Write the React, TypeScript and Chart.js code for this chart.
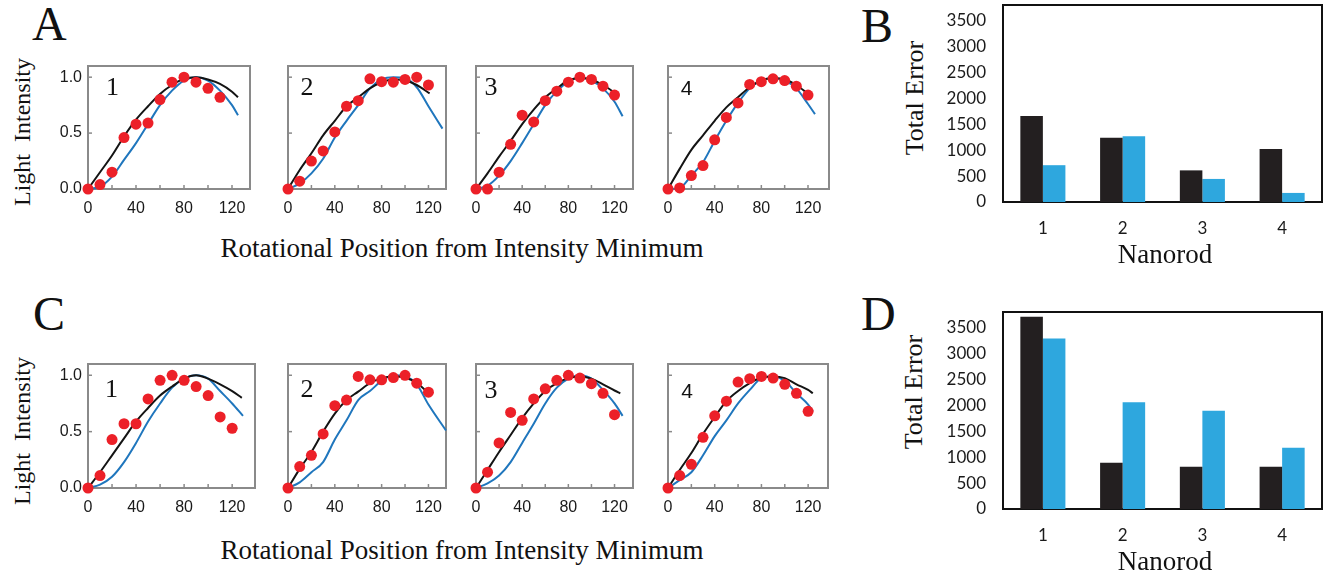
import React, { useEffect, useRef } from 'react';
import { Chart, registerables } from 'chart.js';

Chart.register(...registerables);

// ---------------- data ----------------
const dotAngles = [0, 10, 20, 30, 40, 50, 60, 70, 80, 90, 100, 110, 120];
const xTickLabels = [0, 40, 80, 120];
const xMinorTicks = [20, 40, 60, 80, 100, 120];
const yTickValues = [0, 0.5, 1.0];
const plotNames = ['1', '2', '3', '4'];

// Panel A (measured intensity, red dots; black & blue model curves as [angle, intensity])
const a1Dots = [0, 0.04, 0.15, 0.46, 0.58, 0.59, 0.8, 0.955, 1.0, 0.955, 0.9, 0.82];
const a1Black = [[0, 0], [10, 0.15], [20, 0.3], [30, 0.47], [40, 0.62], [50, 0.74], [60, 0.85], [70, 0.93], [80, 0.985], [90, 1.0], [100, 0.98], [110, 0.94], [120, 0.87], [125, 0.82]];
const a1Blue = [[0, 0], [10, 0.02], [20, 0.11], [30, 0.26], [40, 0.41], [50, 0.58], [60, 0.75], [70, 0.88], [80, 0.97], [90, 1.0], [100, 0.97], [110, 0.88], [120, 0.75], [125, 0.66]];

const a2Dots = [0, 0.07, 0.25, 0.34, 0.51, 0.74, 0.79, 0.985, 0.96, 0.955, 0.98, 1.0, 0.93];
const a2Black = [[0, 0], [10, 0.17], [20, 0.32], [30, 0.48], [40, 0.61], [50, 0.74], [60, 0.82], [70, 0.9], [80, 0.955], [90, 0.98], [100, 0.97], [110, 0.93], [121, 0.855]];
const a2Blue = [[0, 0], [10, 0.05], [20, 0.14], [30, 0.27], [40, 0.46], [50, 0.61], [60, 0.75], [70, 0.9], [80, 0.98], [90, 1.0], [100, 0.99], [110, 0.91], [120, 0.74], [132, 0.54]];

const a3Dots = [0, 0, 0.15, 0.4, 0.66, 0.6, 0.79, 0.875, 0.955, 1.0, 0.98, 0.92, 0.84];
const a3Black = [[0, 0], [10, 0.14], [20, 0.29], [30, 0.43], [40, 0.58], [50, 0.71], [60, 0.82], [70, 0.9], [80, 0.97], [90, 0.99], [100, 0.98], [110, 0.93], [120, 0.86], [123, 0.83]];
const a3Blue = [[0, 0], [10, 0.03], [20, 0.12], [30, 0.25], [40, 0.41], [50, 0.58], [60, 0.75], [70, 0.875], [80, 0.96], [90, 1.0], [100, 0.97], [110, 0.9], [120, 0.78], [127, 0.65]];

const a4Dots = [0, 0.01, 0.12, 0.21, 0.44, 0.64, 0.77, 0.935, 0.96, 0.985, 0.97, 0.92, 0.84];
const a4Black = [[0, 0], [10, 0.18], [20, 0.35], [30, 0.48], [40, 0.61], [50, 0.73], [60, 0.82], [70, 0.91], [80, 0.97], [90, 0.99], [100, 0.98], [110, 0.93], [120, 0.85]];
const a4Blue = [[0, 0], [10, 0.01], [20, 0.12], [30, 0.24], [40, 0.43], [50, 0.61], [60, 0.77], [70, 0.9], [80, 0.97], [90, 0.99], [100, 0.97], [110, 0.9], [120, 0.76], [126, 0.67]];

// Panel C
const c1Dots = [0, 0.11, 0.43, 0.57, 0.57, 0.79, 0.955, 1.0, 0.955, 0.9, 0.82, 0.63, 0.53];
const c1Black = [[0, 0], [10, 0.14], [20, 0.29], [30, 0.44], [40, 0.59], [50, 0.71], [60, 0.82], [70, 0.9], [80, 0.97], [90, 1.0], [100, 0.97], [110, 0.92], [120, 0.86], [128, 0.8]];
const c1Blue = [[0, 0], [10, 0.03], [20, 0.1], [30, 0.23], [40, 0.4], [50, 0.59], [60, 0.75], [70, 0.89], [80, 0.97], [90, 1.0], [100, 0.97], [110, 0.86], [120, 0.75], [129, 0.64]];

const c2Dots = [0, 0.19, 0.29, 0.48, 0.73, 0.78, 0.99, 0.96, 0.96, 0.98, 1.0, 0.93, 0.85];
const c2Black = [[0, 0], [10, 0.17], [20, 0.32], [30, 0.5], [40, 0.66], [50, 0.78], [60, 0.855], [70, 0.93], [80, 0.975], [90, 0.99], [100, 0.98], [110, 0.93], [120, 0.845]];
const c2Blue = [[0, 0], [10, 0.05], [20, 0.14], [30, 0.23], [40, 0.43], [50, 0.6], [60, 0.78], [70, 0.86], [80, 0.95], [90, 1.0], [100, 0.99], [110, 0.92], [120, 0.74], [135, 0.51]];

const c3Dots = [0, 0.14, 0.4, 0.67, 0.6, 0.79, 0.88, 0.955, 1.0, 0.975, 0.925, 0.84, 0.65];
const c3Black = [[0, 0], [10, 0.16], [20, 0.32], [30, 0.47], [40, 0.62], [50, 0.75], [60, 0.86], [70, 0.93], [80, 0.975], [90, 0.99], [100, 0.97], [110, 0.92], [120, 0.865], [125, 0.84]];
const c3Blue = [[0, 0], [10, 0.04], [20, 0.11], [30, 0.23], [40, 0.4], [50, 0.57], [60, 0.75], [70, 0.89], [80, 0.97], [90, 1.0], [100, 0.97], [110, 0.87], [120, 0.75], [127, 0.64]];

const c4Dots = [0, 0.11, 0.21, 0.45, 0.64, 0.77, 0.94, 0.97, 0.99, 0.975, 0.92, 0.84, 0.68];
const c4Black = [[0, 0], [10, 0.16], [20, 0.31], [30, 0.48], [40, 0.63], [50, 0.77], [60, 0.86], [70, 0.93], [80, 0.98], [90, 0.99], [100, 0.975], [110, 0.92], [120, 0.87], [124, 0.84]];
const c4Blue = [[0, 0], [10, 0.07], [20, 0.14], [30, 0.29], [40, 0.46], [50, 0.6], [60, 0.75], [70, 0.87], [80, 0.975], [90, 0.99], [100, 0.95], [110, 0.84], [120, 0.74], [124, 0.68]];

// Panels B and D (Total Error per nanorod)
const nanorods = ['1', '2', '3', '4'];
const errorTicks = [0, 500, 1000, 1500, 2000, 2500, 3000, 3500];
const bBlack = [1660, 1240, 610, 1020];
const bBlue = [710, 1270, 445, 175];
const dBlack = [3710, 890, 815, 815];
const dBlue = [3290, 2060, 1895, 1180];

// ---------------- styles ----------------
const SERIF = '"Liberation Serif", "Times New Roman", serif';
const SANS = '"Liberation Sans", Arial, sans-serif';
const BARFONT = 'Lato, "Open Sans", sans-serif';
const RED = '#ec2028';
const LINE_BLUE = '#1f76bd';
const LINE_BLACK = '#141414';
const FRAME_GREY = '#8a8a8a';
const BAR_BLACK = '#231f20';
const BAR_BLUE = '#2ea7de';

type Box = { l: number; t: number; r: number; b: number };

const framePlugin = {
  id: 'frame',
  beforeDatasetsDraw(chart: any, _args: any, opts: any) {
    const { ctx, chartArea: a } = chart;
    ctx.save();
    ctx.strokeStyle = opts.color;
    ctx.lineWidth = opts.width;
    ctx.strokeRect(a.left, a.top, a.right - a.left, a.bottom - a.top);
    const xs = chart.scales.x;
    const ys = chart.scales.y;
    ctx.lineWidth = 1.5;
    (opts.xTicks || []).forEach((v: number) => {
      const px = xs.getPixelForValue(v);
      ctx.beginPath();
      ctx.moveTo(px, a.bottom);
      ctx.lineTo(px, a.bottom - opts.tickLen);
      ctx.stroke();
    });
    (opts.yTicks || []).forEach((v: number) => {
      const py = ys.getPixelForValue(v);
      ctx.beginPath();
      ctx.moveTo(a.left, py);
      ctx.lineTo(a.left + opts.tickLen, py);
      ctx.stroke();
    });
    if (opts.label) {
      ctx.font = opts.labelFont;
      ctx.fillStyle = '#111';
      ctx.textAlign = 'center';
      ctx.textBaseline = 'alphabetic';
      ctx.fillText(opts.label, a.left + opts.labelDx, a.top + opts.labelDy);
    }
    ctx.restore();
  },
};

function zeroPad(s: any) {
  s.paddingLeft = 0;
  s.paddingRight = 0;
  s.paddingTop = 0;
  s.paddingBottom = 0;
}

type Geo = { wy: number; hx: number; pt: number; pr: number };

function ChartCanvas({ box, geo, make }: { box: Box; geo: Geo; make: (g: Geo) => any }) {
  const ref = useRef<HTMLCanvasElement>(null);
  const w = box.r - box.l + geo.wy + geo.pr;
  const h = box.b - box.t + geo.pt + geo.hx;
  useEffect(() => {
    const chart = new Chart(ref.current as HTMLCanvasElement, make(geo));
    return () => chart.destroy();
  }, []);
  return (
    <canvas
      ref={ref}
      width={w}
      height={h}
      style={{ position: 'absolute', left: box.l - geo.wy, top: box.t - geo.pt, width: w, height: h }}
    />
  );
}

type SmallPlot = {
  box: Box;
  xMax: number;
  name: string;
  nameFont: string;
  dx: number;
  dy: number;
  dots: number[];
  black: number[][];
  blue: number[][];
  yLabels: boolean;
};

const serifNum = `26px ${SERIF}`;
const sansNum = `21px ${SANS}`;

const smallPlots: SmallPlot[] = [
  { box: { l: 88, t: 66, r: 250, b: 189 }, xMax: 135, name: plotNames[0], nameFont: serifNum, dx: 24.5, dy: 29, dots: a1Dots, black: a1Black, blue: a1Blue, yLabels: true },
  { box: { l: 288, t: 66, r: 446, b: 189 }, xMax: 135, name: plotNames[1], nameFont: serifNum, dx: 19, dy: 29, dots: a2Dots, black: a2Black, blue: a2Blue, yLabels: false },
  { box: { l: 476, t: 66, r: 633, b: 189 }, xMax: 136, name: plotNames[2], nameFont: serifNum, dx: 15, dy: 29, dots: a3Dots, black: a3Black, blue: a3Blue, yLabels: false },
  { box: { l: 668, t: 66, r: 829, b: 189 }, xMax: 138, name: plotNames[3], nameFont: sansNum, dx: 18.5, dy: 29, dots: a4Dots, black: a4Black, blue: a4Blue, yLabels: false },
  { box: { l: 88, t: 364, r: 255, b: 488 }, xMax: 139, name: plotNames[0], nameFont: serifNum, dx: 23.5, dy: 32.5, dots: c1Dots, black: c1Black, blue: c1Blue, yLabels: true },
  { box: { l: 288, t: 364, r: 446, b: 488 }, xMax: 135, name: plotNames[1], nameFont: serifNum, dx: 19, dy: 32.5, dots: c2Dots, black: c2Black, blue: c2Blue, yLabels: false },
  { box: { l: 476, t: 364, r: 633, b: 488 }, xMax: 136, name: plotNames[2], nameFont: serifNum, dx: 15, dy: 33.5, dots: c3Dots, black: c3Black, blue: c3Blue, yLabels: false },
  { box: { l: 668, t: 364, r: 828, b: 488 }, xMax: 137, name: plotNames[3], nameFont: sansNum, dx: 19, dy: 33.5, dots: c4Dots, black: c4Black, blue: c4Blue, yLabels: false },
];

const smallGeo: Geo = { wy: 40, hx: 30, pt: 8, pr: 8 };

function makeSmall(p: SmallPlot) {
  return (g: Geo) => ({
    type: 'line',
    data: {
      datasets: [
        {
          data: p.dots.map((y, i) => ({ x: dotAngles[i], y })),
          showLine: false,
          pointRadius: 5.5,
          pointBackgroundColor: RED,
          pointBorderWidth: 0,
          clip: false,
        },
        {
          data: p.black.map(([x, y]) => ({ x, y })),
          borderColor: LINE_BLACK,
          borderWidth: 2,
          pointRadius: 0,
          cubicInterpolationMode: 'monotone',
          clip: false,
        },
        {
          data: p.blue.map(([x, y]) => ({ x, y })),
          borderColor: LINE_BLUE,
          borderWidth: 2,
          pointRadius: 0,
          cubicInterpolationMode: 'monotone',
          clip: false,
        },
      ],
    },
    options: {
      responsive: false,
      animation: false,
      events: [],
      layout: { padding: { left: 0, top: g.pt, right: g.pr, bottom: 0 } },
      plugins: {
        legend: { display: false },
        tooltip: { enabled: false },
        frame: {
          color: FRAME_GREY,
          width: 2,
          tickLen: 4,
          xTicks: xMinorTicks,
          yTicks: yTickValues.slice(1),
          label: p.name,
          labelFont: p.nameFont,
          labelDx: p.dx,
          labelDy: p.dy,
        },
      },
      scales: {
        x: {
          type: 'linear',
          min: 0,
          max: p.xMax,
          afterBuildTicks: (s: any) => {
            s.ticks = xTickLabels.map((v) => ({ value: v }));
          },
          afterFit: (s: any) => {
            s.height = g.hx;
            zeroPad(s);
          },
          grid: { display: false, drawTicks: false },
          border: { display: false },
          ticks: {
            color: '#1a1a1a',
            font: { family: SANS, size: 16 },
            padding: 10,
            maxRotation: 0,
            autoSkip: false,
            callback: (v: any) => String(v),
          },
        },
        y: {
          type: 'linear',
          min: 0,
          max: 1.1,
          afterBuildTicks: (s: any) => {
            s.ticks = yTickValues.map((v) => ({ value: v }));
          },
          afterFit: (s: any) => {
            s.width = g.wy;
            zeroPad(s);
          },
          grid: { display: false, drawTicks: false },
          border: { display: false },
          ticks: {
            display: p.yLabels,
            color: '#1a1a1a',
            font: { family: SANS, size: 16 },
            padding: 6,
            callback: (v: any) => Number(v).toFixed(1),
          },
        },
      },
    },
    plugins: [framePlugin],
  });
}

const barGeo: Geo = { wy: 60, hx: 40, pt: 5, pr: 3 };

function makeBar(black: number[], blue: number[]) {
  return (g: Geo) => ({
    type: 'bar',
    data: {
      labels: nanorods,
      datasets: [
        { data: black, backgroundColor: BAR_BLACK, borderWidth: 0, categoryPercentage: 0.565, barPercentage: 1 },
        { data: blue, backgroundColor: BAR_BLUE, borderWidth: 0, categoryPercentage: 0.565, barPercentage: 1 },
      ],
    },
    options: {
      responsive: false,
      animation: false,
      events: [],
      layout: { padding: { left: 0, top: g.pt, right: g.pr, bottom: 0 } },
      plugins: {
        legend: { display: false },
        tooltip: { enabled: false },
        frame: { color: '#111', width: 2, tickLen: 0 },
      },
      scales: {
        x: {
          afterFit: (s: any) => {
            s.height = g.hx;
            zeroPad(s);
          },
          grid: { display: false, drawTicks: false },
          border: { display: false },
          ticks: { color: '#1a1a1a', font: { family: BARFONT, size: 17 }, padding: 16 },
        },
        y: {
          min: 0,
          max: 3800,
          afterBuildTicks: (s: any) => {
            s.ticks = errorTicks.map((v) => ({ value: v }));
          },
          afterFit: (s: any) => {
            s.width = g.wy;
            zeroPad(s);
          },
          grid: { display: false, drawTicks: false },
          border: { display: false },
          ticks: { color: '#1a1a1a', font: { family: BARFONT, size: 17 }, padding: 17, callback: (v: any) => String(v) },
        },
      },
    },
    plugins: [framePlugin],
  });
}

function CText({ text, cx, cy, size, rotate, family }: { text: string; cx: number; cy: number; size: number; rotate?: boolean; family: string }) {
  return (
    <div
      style={{
        position: 'absolute',
        left: cx,
        top: cy,
        transform: `translate(-50%, -50%)${rotate ? ' rotate(-90deg)' : ''}`,
        fontFamily: family,
        fontSize: size,
        lineHeight: 1,
        whiteSpace: 'pre',
        color: '#111',
      }}
    >
      {text}
    </div>
  );
}

function Letter({ text, x, y }: { text: string; x: number; y: number }) {
  return (
    <div style={{ position: 'absolute', left: x, top: y, fontFamily: SERIF, fontSize: 48, lineHeight: 1, color: '#111' }}>
      {text}
    </div>
  );
}

export default function App() {
  return (
    <div
      style={{
        position: 'absolute',
        left: 0,
        top: 0,
        width: 1325,
        height: 574,
        overflow: 'hidden',
        background: '#ffffff',
      }}
    >
      {smallPlots.map((p, i) => (
        <ChartCanvas key={i} box={p.box} geo={smallGeo} make={makeSmall(p)} />
      ))}
      <ChartCanvas box={{ l: 1003, t: 5, r: 1322, b: 202 }} geo={barGeo} make={makeBar(bBlack, bBlue)} />
      <ChartCanvas box={{ l: 1003, t: 312, r: 1322, b: 509 }} geo={barGeo} make={makeBar(dBlack, dBlue)} />

      <Letter text="A" x={32} y={0} />
      <Letter text="B" x={861} y={2} />
      <Letter text="C" x={33} y={290} />
      <Letter text="D" x={861} y={290} />

      <CText text="Light  Intensity" cx={22} cy={132} size={24} rotate family={SERIF} />
      <CText text="Light  Intensity" cx={22} cy={431} size={24} rotate family={SERIF} />
      <CText text="Rotational Position from Intensity Minimum" cx={462} cy={248} size={27} family={SERIF} />
      <CText text="Rotational Position from Intensity Minimum" cx={462} cy={550} size={27} family={SERIF} />

      <CText text="Total Error" cx={915} cy={98} size={26} rotate family={SERIF} />
      <CText text="Total Error" cx={914} cy={392} size={26} rotate family={SERIF} />
      <CText text="Nanorod" cx={1165} cy={254} size={27} family={SERIF} />
      <CText text="Nanorod" cx={1165} cy={561} size={27} family={SERIF} />
    </div>
  );
}
